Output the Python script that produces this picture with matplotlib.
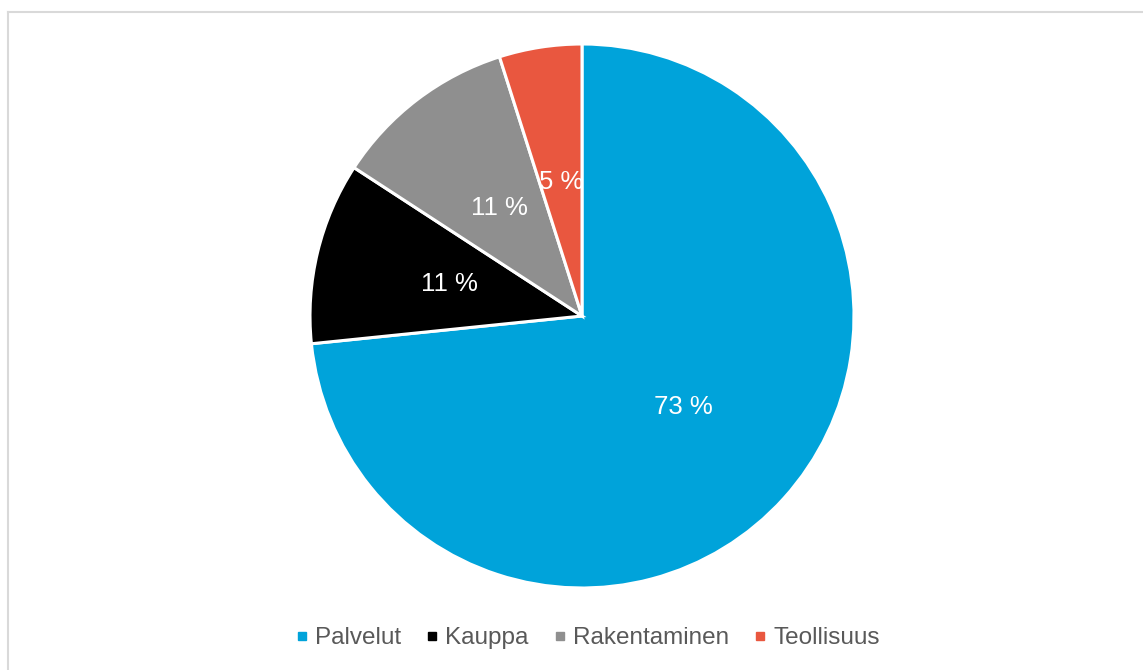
import matplotlib.pyplot as plt
from matplotlib.lines import Line2D

labels = ["Palvelut", "Kauppa", "Rakentaminen", "Teollisuus"]
values = [73.3, 10.8, 10.9, 4.9]
colors = ["#00A3DA", "#000000", "#8F8F8F", "#E9573F"]

plt.rcParams['font.family'] = ['Liberation Sans', 'DejaVu Sans']

W, H = 1143, 670
fig = plt.figure(figsize=(W / 100, H / 100), dpi=100)

# pie centre ~(582, 316) px, radius ~272 px
cx, cy, r = 582, 316, 272
ax = fig.add_axes([(cx - r) / W, (H - cy - r) / H, 2 * r / W, 2 * r / H])

wedges, texts, autotexts = ax.pie(
    values, colors=colors, startangle=90, counterclock=False,
    autopct=lambda p: f"{p:.0f} %", pctdistance=0.5,
    wedgeprops=dict(edgecolor="white", linewidth=2.2),
    textprops=dict(color="white", fontsize=18.5))
for w in wedges:
    w.set_clip_on(False)
ax.set_xlim(-1, 1)
ax.set_ylim(-1, 1)

# legend
handles = [Line2D([], [], marker="s", linestyle="", markersize=6,
                  markerfacecolor=c, markeredgecolor=c) for c in colors]
fig.legend(handles, labels, ncol=4, loc="center",
           bbox_to_anchor=(587 / W, 1 - 638 / H), frameon=False,
           fontsize=17.5, labelcolor="#595959", handletextpad=0.25,
           columnspacing=0.97, handlelength=0.6)

# chart frame (top and left edges visible)
fig.add_artist(Line2D([8 / W, 8 / W], [0, 1 - 12 / H], color="#D9D9D9", lw=1.5))
fig.add_artist(Line2D([8 / W, 1], [1 - 12 / H, 1 - 12 / H], color="#D9D9D9", lw=1.5))

fig.savefig("out.png", dpi=100, facecolor="white")
